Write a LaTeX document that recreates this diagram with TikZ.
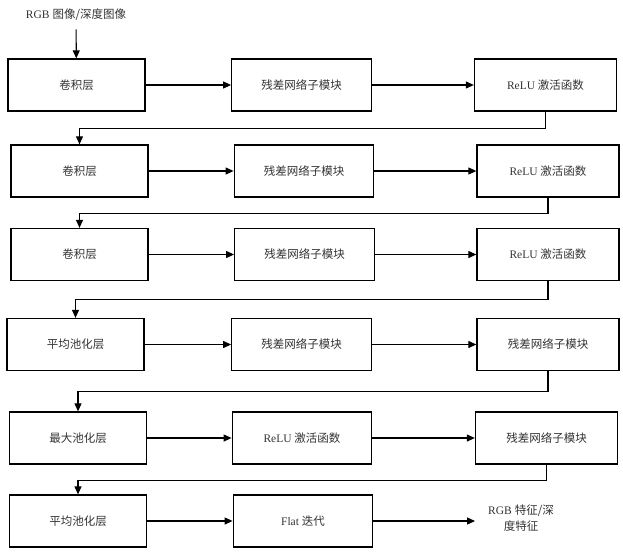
\documentclass[tikz,border=0pt]{standalone}
\usepackage{fontspec}
\setmainfont{Liberation Serif}
\newfontfamily\cjk{Noto Sans CJK SC}
\usetikzlibrary{arrows.meta}
\usetikzlibrary{positioning}

\tikzset{
  blk/.style={draw,line width=1.3pt,minimum height=52pt,inner sep=0pt,
    text=black!80,font=\fontsize{11.5}{16}\selectfont},
  colA/.style={blk,minimum width=137pt},
  colB/.style={blk,minimum width=139.5pt},
  colC/.style={blk,minimum width=142pt},
  lbl/.style={text=black!80,font=\fontsize{11.5}{16}\selectfont},
  arr/.style={line width=1.1pt,-{Triangle[length=8pt,width=7pt]}}
}

\begin{document}
\begin{tikzpicture}[x=1pt,y=-1pt]
\useasboundingbox (0,0) rectangle (623,552);

\node[lbl] (in) at (76,15) {RGB {\cjk 图像/深度图像}};

% row 1
\node[colA] (A1) at (76.5,85) {\cjk 卷积层};
\node[colB] (B1) at (301.5,85) {\cjk 残差网络子模块};
\node[colC] (C1) at (545.5,85) {ReLU {\cjk 激活函数}};
% row 2
\node[colA] (A2) at (79.5,171) {\cjk 卷积层};
\node[colB] (B2) at (304,171) {\cjk 残差网络子模块};
\node[colC] (C2) at (548,171) {ReLU {\cjk 激活函数}};
% row 3
\node[colA] (A3) at (79.5,254.5) {\cjk 卷积层};
\node[colB] (B3) at (304.5,254.5) {\cjk 残差网络子模块};
\node[colC] (C3) at (548,254.5) {ReLU {\cjk 激活函数}};
% row 4
\node[colA] (A4) at (75.5,344.5) {\cjk 平均池化层};
\node[colB] (B4) at (301.5,344.5) {\cjk 残差网络子模块};
\node[colC] (C4) at (548,344.5) {\cjk 残差网络子模块};
% row 5
\node[colA] (A5) at (78,438) {\cjk 最大池化层};
\node[colB] (B5) at (302,438) {ReLU {\cjk 激活函数}};
\node[colC] (C5) at (546.5,438) {\cjk 残差网络子模块};
% row 6
\node[colA] (A6) at (78,521) {\cjk 平均池化层};
\node[colB] (B6) at (303,521) {Flat {\cjk 迭代}};
\node[lbl,align=center,inner xsep=13pt] (out) at (521,518)
  {RGB {\cjk 特征/深}\\{\cjk 度特征}};

\draw[arr,shorten <=5pt] (in) -- (A1);
\draw[arr] (A1) -- (B1);
\draw[arr] (B1) -- (C1);
\draw[arr] (A2) -- (B2);
\draw[arr] (B2) -- (C2);
\draw[arr] (A3) -- (B3);
\draw[arr] (B3) -- (C3);
\draw[arr] (A4) -- (B4);
\draw[arr] (B4) -- (C4);
\draw[arr] (A5) -- (B5);
\draw[arr] (B5) -- (C5);
\draw[arr] (A6) -- (B6);
\draw[arr] (B6.east) -- (B6.east -| out.west);

% row to row
\draw[arr] (C1.south) -- ++(0,17) -| (A2.north);
\draw[arr] (C2.south) -- ++(0,15.5) -| (A3.north);
\draw[arr] (C3.south) -- ++(0,18.5) -| (A4.north);
\draw[arr] (C4.south) -- ++(0,20.5) -| (A5.north);
\draw[arr] (C5.south) -- ++(0,15.5) -| (A6.north);

\end{tikzpicture}
\end{document}
